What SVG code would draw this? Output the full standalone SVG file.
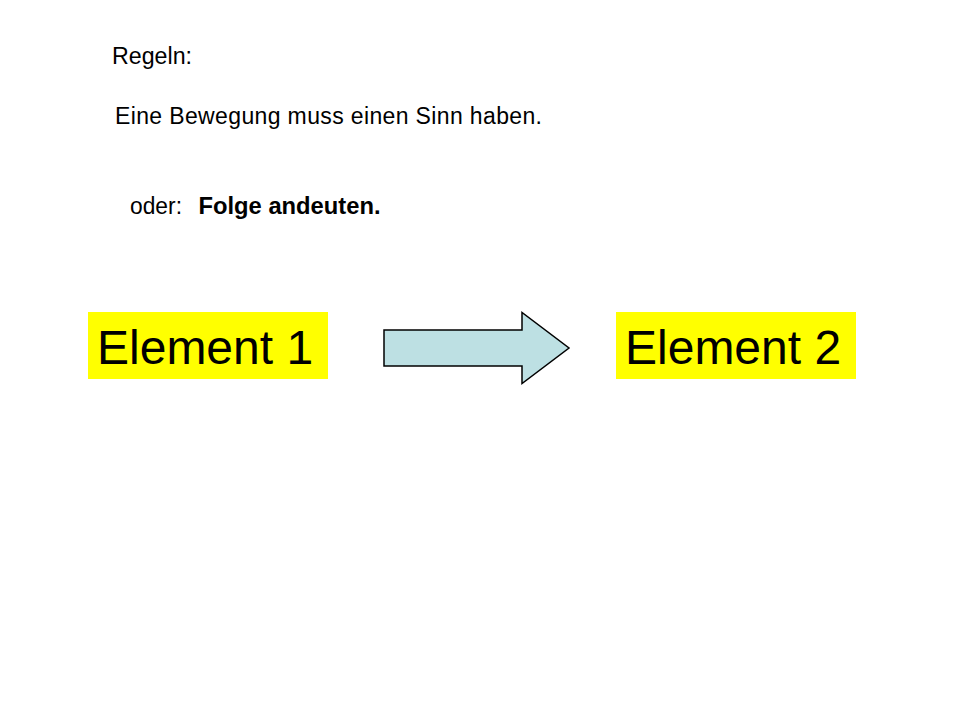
<svg xmlns="http://www.w3.org/2000/svg" width="960" height="720" viewBox="0 0 960 720">
<style>
.t{font-family:"Liberation Sans",Arial,sans-serif;fill:#000}
.s{font-size:23px}
.b{font-weight:bold}
.el{font-size:48px}
.box{fill:#ffff00}
.arrow{fill:#bde0e3;stroke:#000;stroke-width:1.5;stroke-linejoin:miter}
</style>
<rect width="960" height="720" fill="#fff"/>
<g id="texts">
<text class="t s" x="112" y="64" textLength="80" lengthAdjust="spacingAndGlyphs">Regeln:</text>
<text class="t s" x="115" y="124" textLength="427" lengthAdjust="spacing">Eine Bewegung muss einen Sinn haben.</text>
<text class="t s" x="130" y="214" textLength="52" lengthAdjust="spacingAndGlyphs">oder:</text>
<text class="t s b" x="198.5" y="214" textLength="182" lengthAdjust="spacingAndGlyphs">Folge andeuten.</text>
</g>
<g id="element1">
<rect class="box" x="88" y="312" width="240" height="67"/>
<text class="t el" x="97" y="364">Element 1</text>
</g>
<g id="element2">
<rect class="box" x="616" y="312" width="240" height="67"/>
<text class="t el" x="625" y="364">Element 2</text>
</g>
<g id="connectors">
<polygon class="arrow" points="384,330 522,330 522,312.5 569,348 522,383.5 522,366 384,366"/>
</g>
</svg>
